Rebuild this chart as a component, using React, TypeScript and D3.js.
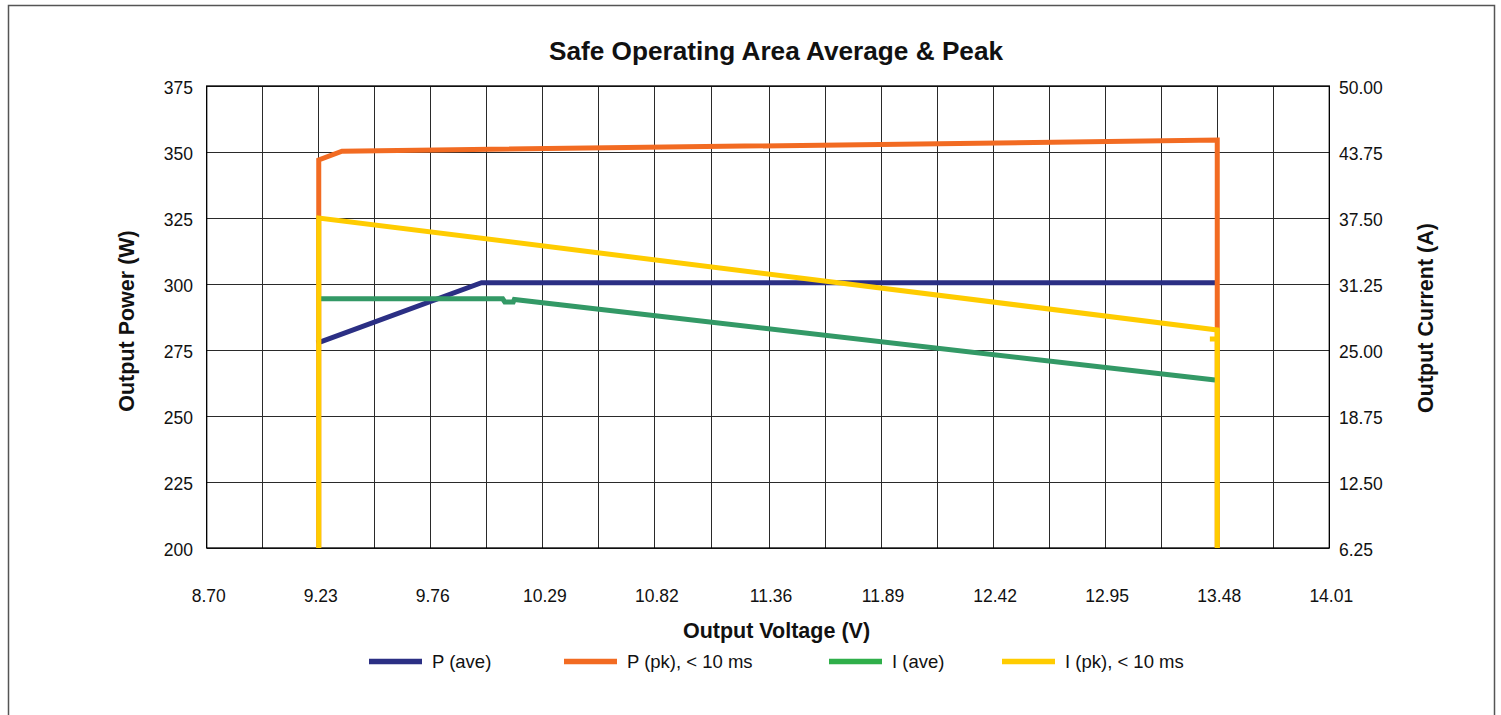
import { useEffect, useRef } from 'react'
import * as d3 from 'd3'

// ─── Data ─────────────────────────────────────────────────────────────────────

const X_TICKS = [8.70, 9.23, 9.76, 10.29, 10.82, 11.36, 11.89, 12.42, 12.95, 13.48, 14.01]
const Y_LEFT_TICKS = [200, 225, 250, 275, 300, 325, 350, 375]
const Y_RIGHT_TICKS = [6.25, 12.5, 18.75, 25, 31.25, 37.5, 43.75, 50]

// [voltage, watts]
const P_AVE: [number, number][] = [
  [9.22, 277.6], [9.245, 278.3], [10.0, 300.5], [13.48, 300.5],
]
const P_PK: [number, number][] = [
  [9.23, 200], [9.23, 347], [9.34, 350.3], [13.48, 354.5], [13.48, 200],
]
// [voltage, amps]
const I_AVE: [number, number][] = [
  [9.23, 29.85], [10.1, 29.85], [10.11, 29.55], [10.15, 29.55], [10.155, 29.78], [13.47, 22.15],
]
const I_PK: [number, number][] = [
  [9.23, 6.25], [9.23, 37.5], [13.48, 26.9], [13.48, 26.05], [13.445, 26.05], [13.48, 26.05], [13.48, 6.25],
]

const SERIES = [
  { name: 'P (ave)', data: P_AVE, axis: 'left', color: '#2B2F84', legendColor: '#2B2F84' },
  { name: 'P (pk), < 10 ms', data: P_PK, axis: 'left', color: '#F26B22', legendColor: '#F26B22' },
  { name: 'I (ave)', data: I_AVE, axis: 'right', color: '#339966', legendColor: '#2FAF4A' },
  { name: 'I (pk), < 10 ms', data: I_PK, axis: 'right', color: '#FFCC00', legendColor: '#FFCC00' },
]

// ─── Layout ───────────────────────────────────────────────────────────────────

const W = 1501
const H = 715
const PLOT = { left: 206.7, right: 1329.3, top: 86, bottom: 548 }
const FONT = '"Liberation Sans", Arial, Helvetica, sans-serif'
const LEGEND_X = [369, 564, 829, 1002]

export default function App() {
  const svgRef = useRef<SVGSVGElement>(null)

  useEffect(() => {
    if (!svgRef.current) return
    const svg = d3.select(svgRef.current)
    svg.selectAll('*').remove()

    const x = d3.scaleLinear().domain([8.70, 14.01]).range([PLOT.left, PLOT.right])
    const yL = d3.scaleLinear().domain([200, 375]).range([PLOT.bottom, PLOT.top])
    const yR = d3.scaleLinear().domain([6.25, 50]).range([PLOT.bottom, PLOT.top])

    // Outer frame
    svg.append('rect')
      .attr('x', 8.5).attr('y', 5.5)
      .attr('width', 1486).attr('height', 800)
      .attr('fill', '#fff').attr('stroke', '#555').attr('stroke-width', 1.5)

    // Title
    svg.append('text')
      .attr('x', 776).attr('y', 60)
      .attr('text-anchor', 'middle')
      .attr('font-family', FONT).attr('font-weight', 'bold').attr('font-size', 26.2)
      .attr('fill', '#111')
      .text('Safe Operating Area Average & Peak')

    // Gridlines (every half tick)
    const grid = svg.append('g').attr('stroke', '#2a2a2a').attr('stroke-width', 1)
      .attr('shape-rendering', 'crispEdges')
    const xGrid: number[] = []
    X_TICKS.forEach((t, i) => {
      xGrid.push(t)
      if (i < X_TICKS.length - 1) xGrid.push((t + X_TICKS[i + 1]) / 2)
    })
    xGrid.forEach((v) => {
      grid.append('line')
        .attr('x1', x(v)).attr('x2', x(v))
        .attr('y1', PLOT.top).attr('y2', PLOT.bottom)
    })
    Y_LEFT_TICKS.forEach((v) => {
      grid.append('line')
        .attr('x1', PLOT.left).attr('x2', PLOT.right)
        .attr('y1', yL(v)).attr('y2', yL(v))
    })

    // Plot border
    svg.append('rect')
      .attr('x', PLOT.left).attr('y', PLOT.top)
      .attr('width', PLOT.right - PLOT.left).attr('height', PLOT.bottom - PLOT.top)
      .attr('fill', 'none').attr('stroke', '#000').attr('stroke-width', 1.3)

    // Tick labels
    const tickText = (g: d3.Selection<SVGGElement, unknown, null, undefined>) =>
      g.attr('font-family', FONT).attr('font-size', 17.5).attr('fill', '#111')

    const left = svg.append('g').call(tickText)
    Y_LEFT_TICKS.forEach((v) => {
      left.append('text')
        .attr('x', 193).attr('y', yL(v) + 8)
        .attr('text-anchor', 'end')
        .text(String(v))
    })
    const right = svg.append('g').call(tickText)
    Y_RIGHT_TICKS.forEach((v) => {
      right.append('text')
        .attr('x', 1339).attr('y', yR(v) + 8)
        .attr('text-anchor', 'start')
        .text(v.toFixed(2))
    })
    const bottom = svg.append('g').call(tickText)
    X_TICKS.forEach((v) => {
      bottom.append('text')
        .attr('x', x(v) + 2).attr('y', 601.5)
        .attr('text-anchor', 'middle')
        .text(v.toFixed(2))
    })

    // Axis titles
    const axisTitle = (sel: d3.Selection<SVGTextElement, unknown, null, undefined>) =>
      sel.attr('font-family', FONT).attr('font-weight', 'bold').attr('font-size', 21.5).attr('fill', '#111')
        .attr('text-anchor', 'middle')

    svg.append('text').call(axisTitle)
      .attr('x', 776.5).attr('y', 637.5)
      .text('Output Voltage (V)')
    svg.append('text').call(axisTitle)
      .attr('transform', 'translate(133.5,321) rotate(-90)')
      .text('Output Power (W)')
    svg.append('text').call(axisTitle)
      .attr('transform', 'translate(1433,318) rotate(-90)')
      .text('Output Current (A)')

    // Series
    const lines = svg.append('g')
    SERIES.forEach((s) => {
      const yScale = s.axis === 'left' ? yL : yR
      const line = d3.line<[number, number]>()
        .x((d) => x(d[0]))
        .y((d) => yScale(d[1]))
      lines.append('path').datum(s.data)
        .attr('fill', 'none')
        .attr('stroke', s.color)
        .attr('stroke-width', 5)
        .attr('stroke-linejoin', 'miter')
        .attr('d', line)
    })

    // Legend
    const legend = svg.append('g')
    SERIES.forEach((s, i) => {
      const lx = LEGEND_X[i]
      legend.append('line')
        .attr('x1', lx).attr('x2', lx + 53)
        .attr('y1', 661.5).attr('y2', 661.5)
        .attr('stroke', s.legendColor).attr('stroke-width', 5.5)
      legend.append('text')
        .attr('x', lx + 63).attr('y', 668)
        .attr('font-family', FONT).attr('font-size', 18.5).attr('fill', '#111')
        .text(s.name)
    })
  }, [])

  return (
    <svg
      ref={svgRef}
      width={W}
      height={H}
      style={{ position: 'absolute', left: 0, top: 0, background: '#fff' }}
    />
  )
}
